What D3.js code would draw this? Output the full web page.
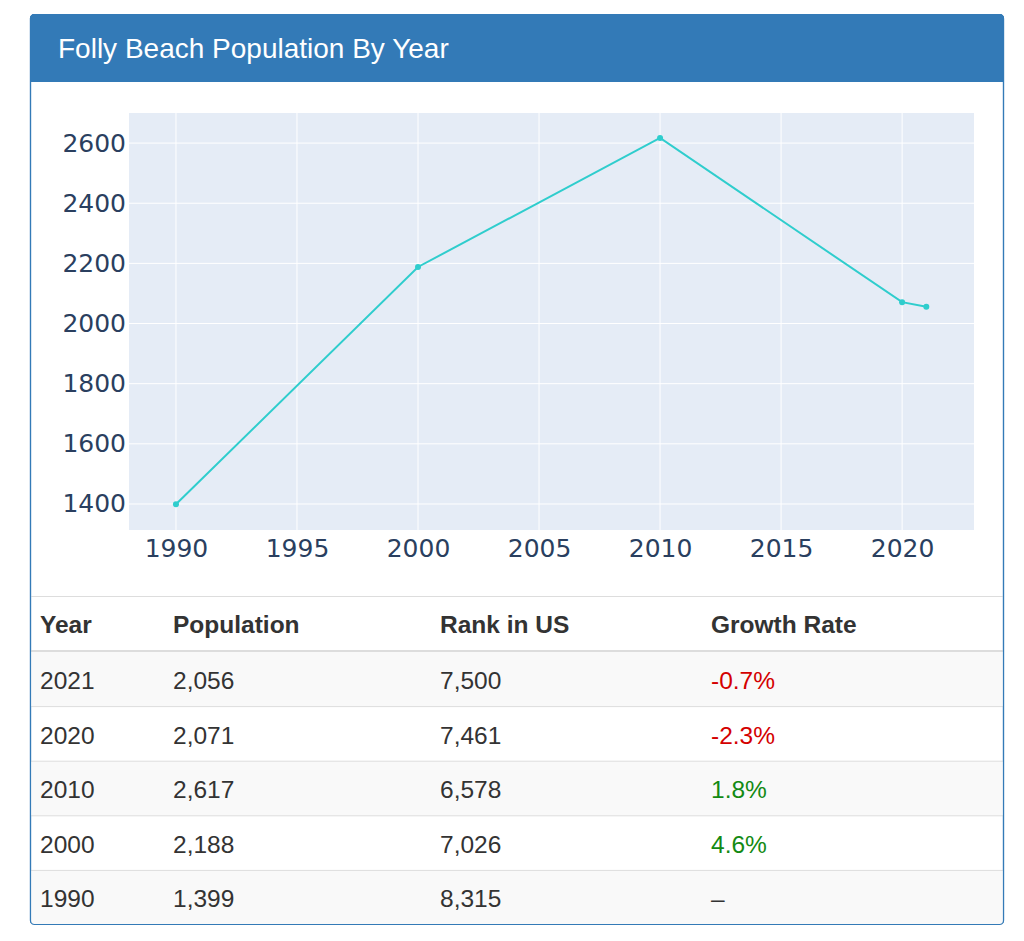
<!DOCTYPE html>
<html><head><meta charset="utf-8">
<script src="https://cdn.jsdelivr.net/npm/d3@7"></script>
<style>body{margin:0;background:#fff;}svg{display:block;}</style>
</head><body>
<svg id="c" width="1024" height="941"></svg>
<script>
const title = "Folly Beach Population By Year";
const years = [2021, 2020, 2010, 2000, 1990];
const population = [2056, 2071, 2617, 2188, 1399];
const rankInUS = [7500, 7461, 6578, 7026, 8315];
const growthRate = ["-0.7%", "-2.3%", "1.8%", "4.6%", "–"];
const columns = ["Year", "Population", "Rank in US", "Growth Rate"];
const xTicks = [1990, 1995, 2000, 2005, 2010, 2015, 2020];
const yTicks = [1400, 1600, 1800, 2000, 2200, 2400, 2600];

const svg = d3.select("#c");
const fmt = d3.format(",");

// panel
svg.append("rect").attr("x",30.5).attr("y",14.5).attr("width",973).attr("height",910)
  .attr("rx",4).attr("fill","#fff").attr("stroke","#337ab7").attr("stroke-width",1.2);
svg.append("path").attr("d","M30,82 L30,18.5 Q30,14 34.5,14 L999.5,14 Q1004,14 1004,18.5 L1004,82 Z")
  .attr("fill","#337ab7");
svg.append("text").attr("x",58).attr("y",58).attr("fill","#fff")
  .attr("font-family","Liberation Sans, Arial, sans-serif").attr("font-size",28).text(title);

// chart
const L=129,R=974,T=113,B=530;
const x = d3.scaleLinear().domain([1988.06,2022.97]).range([L,R]);
const y = d3.scaleLinear().domain([1313.5,2700]).range([B,T]);
svg.append("rect").attr("x",L).attr("y",T).attr("width",R-L).attr("height",B-T).attr("fill","#e5ecf6");
const g = svg.append("g");
g.selectAll(".vg").data(xTicks).join("line").attr("x1",d=>x(d)).attr("x2",d=>x(d))
  .attr("y1",T).attr("y2",B).attr("stroke","#fff").attr("stroke-width",1);
g.selectAll(".hg").data(yTicks).join("line").attr("y1",d=>y(d)).attr("y2",d=>y(d))
  .attr("x1",L).attr("x2",R).attr("stroke","#fff").attr("stroke-width",1);

const xa = svg.append("g").attr("transform",`translate(0,${B})`)
  .call(d3.axisBottom(x).tickValues(xTicks).tickFormat(d3.format("d")).tickSize(0).tickPadding(27));
const ya = svg.append("g").attr("transform",`translate(${L},0)`)
  .call(d3.axisLeft(y).tickValues(yTicks).tickFormat(d3.format("d")).tickSize(0).tickPadding(3));
[xa,ya].forEach(a=>{a.select(".domain").remove();
  a.selectAll("text").attr("font-family","DejaVu Sans, Verdana, sans-serif").attr("font-size",25).attr("fill","#2a3f5f");});
xa.selectAll("text").attr("dy",null).attr("y",27);

const pts = years.map((yr,i)=>({yr,v:population[i]})).sort((a,b)=>a.yr-b.yr);
svg.append("path").datum(pts).attr("fill","none").attr("stroke","#2fcdcd").attr("stroke-width",2)
  .attr("d",d3.line().x(d=>x(d.yr)).y(d=>y(d.v)));
svg.selectAll(".pt").data(pts).join("circle").attr("cx",d=>x(d.yr)).attr("cy",d=>y(d.v))
  .attr("r",3).attr("fill","#2fcdcd");

// table
const colX=[40,173,440,711];
const font="Liberation Sans, Arial, Helvetica, sans-serif";
svg.append("line").attr("x1",31).attr("x2",1003).attr("y1",596.5).attr("y2",596.5).attr("stroke","#ddd");
svg.selectAll(".th").data(columns).join("text").attr("x",(d,i)=>colX[i]).attr("y",633)
  .attr("font-family",font).attr("font-weight","bold").attr("font-size",24.5).attr("fill","#333").text(d=>d);
const rowTop=652,rowH=54.6;
years.forEach((yr,i)=>{
  const top=rowTop+i*rowH;
  if(i%2===0) svg.append("rect").attr("x",31).attr("y",top).attr("width",972).attr("height",rowH).attr("fill","#f9f9f9");
  if(i>0) svg.append("line").attr("x1",31).attr("x2",1003).attr("y1",top).attr("y2",top).attr("stroke","#ddd");
  const base=top+37;
  const vals=[String(yr),fmt(population[i]),fmt(rankInUS[i]),growthRate[i]];
  vals.forEach((v,j)=>{
    let col="#333";
    if(j===3){ if(v.startsWith("-")) col="#d40000"; else if(v!=="–") col="#138a13"; }
    svg.append("text").attr("x",colX[j]).attr("y",base).attr("font-family",font)
      .attr("font-size",24.5).attr("fill",col).text(v);
  });
});
svg.append("line").attr("x1",31).attr("x2",1003).attr("y1",651).attr("y2",651).attr("stroke","#ddd").attr("stroke-width",2);
svg.append("rect").attr("x",30.5).attr("y",14.5).attr("width",973).attr("height",910)
  .attr("rx",4).attr("fill","none").attr("stroke","#337ab7").attr("stroke-width",1.2);
</script>
</body></html>
